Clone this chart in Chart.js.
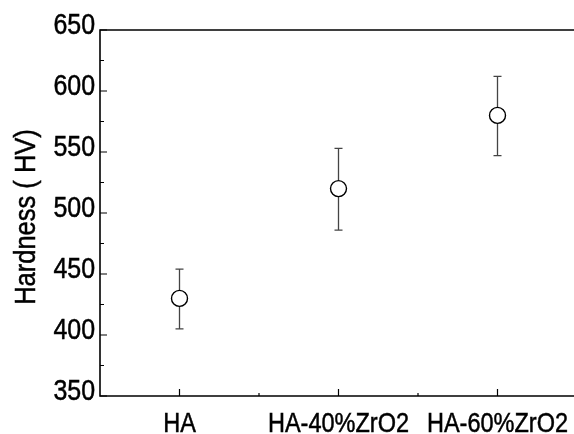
<!DOCTYPE html>
<html>
<head>
<meta charset="utf-8">
<script src="https://cdn.jsdelivr.net/npm/chart.js@4/dist/chart.umd.min.js"></script>
<style>
  html, body { margin: 0; padding: 0; background: #fff; overflow: hidden; }
  canvas { display: block; }
</style>
</head>
<body>
<canvas id="hardnessChart" width="577" height="434"></canvas>
<script>
// values
const categories = ['HA', 'HA-40%ZrO2', 'HA-60%ZrO2'];
const hardness = [430, 520, 580];
const errUp = [24, 33, 32];
const errDown = [25, 34, 33];
const yTicks = [350, 400, 450, 500, 550, 600, 650];
const yTitle = 'Hardness ( HV)';

const FONT = '"Liberation Sans", Arial, sans-serif';

// the reference uses a squeezed sans face, so text is drawn with a horizontal scale
const drawNarrow = (ctx, text, x, y, size, sx, align, rot) => {
  ctx.save();
  ctx.translate(x, y);
  if (rot) ctx.rotate(rot);
  ctx.scale(sx, 1);
  ctx.font = size + 'px ' + FONT;
  ctx.fillStyle = '#000';
  ctx.strokeStyle = '#000';
  ctx.lineWidth = 0.5;
  ctx.textAlign = align;
  ctx.textBaseline = 'alphabetic';
  ctx.fillText(text, 0, 0);
  ctx.strokeText(text, 0, 0);
  ctx.restore();
};

// frame, inward ticks, labels and error bars, all placed through the chart scales
const frameAndErrors = {
  id: 'frameAndErrors',
  beforeDatasetsDraw(chart) {
    const { ctx, chartArea: a, scales: { x, y } } = chart;
    ctx.save();

    // error bars
    ctx.lineWidth = 1.3;
    ctx.strokeStyle = '#444';
    hardness.forEach((v, i) => {
      const px = x.getPixelForValue(i);
      const top = y.getPixelForValue(v + errUp[i]);
      const bot = y.getPixelForValue(v - errDown[i]);
      ctx.beginPath();
      ctx.moveTo(px, top);
      ctx.lineTo(px, bot);
      ctx.moveTo(px - 4, top);
      ctx.lineTo(px + 4, top);
      ctx.moveTo(px - 4, bot);
      ctx.lineTo(px + 4, bot);
      ctx.stroke();
    });

    // frame: left, top, bottom
    ctx.strokeStyle = '#000';
    ctx.lineWidth = 1.6;
    ctx.beginPath();
    ctx.moveTo(a.right + 2, a.top);
    ctx.lineTo(a.left, a.top);
    ctx.lineTo(a.left, a.bottom);
    ctx.lineTo(a.right + 2, a.bottom);
    ctx.stroke();

    // y ticks, major and minor, pointing inward
    ctx.lineWidth = 1.2;
    ctx.beginPath();
    for (let k = 0; k < yTicks.length; k++) {
      const py = y.getPixelForValue(yTicks[k]);
      ctx.moveTo(a.left, py);
      ctx.lineTo(a.left + 7, py);
      if (k < yTicks.length - 1) {
        const pm = y.getPixelForValue((yTicks[k] + yTicks[k + 1]) / 2);
        ctx.moveTo(a.left, pm);
        ctx.lineTo(a.left + 4, pm);
      }
    }
    // x ticks at categories, minor ones in between
    categories.forEach((c, i) => {
      const px = x.getPixelForValue(i);
      ctx.moveTo(px, a.bottom);
      ctx.lineTo(px, a.bottom - 7);
      if (i < categories.length - 1) {
        const pm = (px + x.getPixelForValue(i + 1)) / 2;
        ctx.moveTo(pm, a.bottom);
        ctx.lineTo(pm, a.bottom - 3);
      }
    });
    ctx.stroke();
    ctx.restore();

    // tick labels and axis title
    yTicks.forEach((t) => {
      drawNarrow(ctx, String(t), a.left - 5, y.getPixelForValue(t) + 4, 29, 0.86, 'right', 0);
    });
    categories.forEach((c, i) => {
      drawNarrow(ctx, c, x.getPixelForValue(i), a.bottom + 36, 28, 0.84, 'center', 0);
    });
    drawNarrow(ctx, yTitle, 35, (a.top + a.bottom) / 2 + 4, 30, 0.85, 'center', -Math.PI / 2);
  }
};

new Chart(document.getElementById('hardnessChart'), {
  type: 'line',
  data: {
    labels: categories,
    datasets: [{
      data: hardness,
      showLine: false,
      pointStyle: 'circle',
      pointRadius: 8,
      pointHoverRadius: 8,
      pointBackgroundColor: '#fff',
      pointBorderColor: '#000',
      pointBorderWidth: 1.4
    }]
  },
  options: {
    responsive: false,
    animation: false,
    layout: { autoPadding: false, padding: { top: 30, right: 0, left: 0, bottom: 0 } },
    plugins: { legend: { display: false }, tooltip: { enabled: false } },
    scales: {
      x: {
        type: 'category',
        offset: true,
        grid: { display: false },
        border: { display: false },
        ticks: { display: false },
        afterFit: (s) => { s.height = 38; s.paddingLeft = 0; s.paddingRight = 0; }
      },
      y: {
        min: 350,
        max: 650,
        grid: { display: false },
        border: { display: false },
        ticks: { display: false, stepSize: 50 },
        afterFit: (s) => { s.width = 100; s.paddingTop = 0; s.paddingBottom = 0; }
      }
    }
  },
  plugins: [frameAndErrors]
});
</script>
</body>
</html>
